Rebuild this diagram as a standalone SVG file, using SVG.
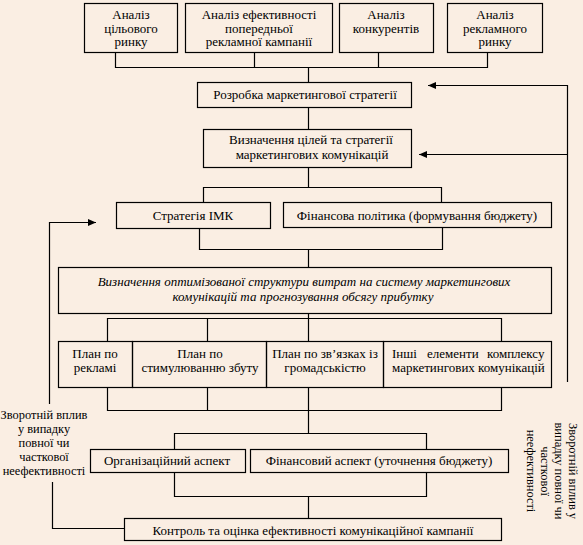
<svg xmlns="http://www.w3.org/2000/svg" width="583" height="545" viewBox="0 0 583 545">
<style>
.bg{fill:#FAEEE3}
.box{fill:none;stroke:#000;stroke-width:1.2}
.ln{fill:none;stroke:#000;stroke-width:1.2}
.t{font-family:"Liberation Serif","Times New Roman",serif;font-size:13px;fill:#000;text-anchor:middle}
.i{font-style:italic}
.s{font-size:12.4px}
</style>
<defs>
<marker id="ah" markerUnits="userSpaceOnUse" markerWidth="9" markerHeight="8" refX="8" refY="3.5" orient="auto">
<path d="M0,0 L8,3.5 L0,7 z" fill="#000"/>
</marker>
</defs>
<rect class="bg" x="0" y="0" width="583" height="545"/>
<g id="connectors">
<path class="ln" d="M115.5 52 V67.5 H487.5 V52 M254.5 52 V67.5 M378.5 52 V67.5 M308.5 67.5 V82"/>
<path class="ln" d="M308.5 107 V129"/>
<path class="ln" d="M567.5 382 V85.5 H428" marker-end="url(#ah)"/>
<path class="ln" d="M567.5 154.5 H419" marker-end="url(#ah)"/>
<path class="ln" d="M308.5 167 V187.5 M203.5 202 V187.5 H441.5 V202"/>
<path class="ln" d="M199.5 228 V249.5 H442.5 V227 M308.5 249.5 V267"/>
<path class="ln" d="M49.5 404 V222.5 H96" marker-end="url(#ah)"/>
<path class="ln" d="M308.5 313 V341 M107.5 341 V318.5 H501.5 V341 M207.5 318.5 V341"/>
<path class="ln" d="M107.5 387 V410.5 H501.5 V387 M207.5 387 V410.5 M308.5 387 V433.5"/>
<path class="ln" d="M174.5 449 V433.5 H426.5 V449"/>
<path class="ln" d="M174.5 472 V496.5 H426.5 V472 M308.5 496.5 V518"/>
<path class="ln" d="M124 528.5 H52.5 V482"/>
</g>
<g id="n1"><rect class="box" x="84.5" y="3.5" width="93" height="49"/>
<text class="t" x="131" y="19">Аналіз<tspan x="131" dy="13.5">цільового</tspan><tspan x="131" dy="13.5">ринку</tspan></text></g>
<g id="n2"><rect class="box" x="185.5" y="3.5" width="147" height="49"/>
<text class="t" x="259" y="19">Аналіз ефективності<tspan x="259" dy="13.5">попередньої</tspan><tspan x="259" dy="13.5">рекламної кампанії</tspan></text></g>
<g id="n3"><rect class="box" x="339.5" y="3.5" width="94" height="49"/>
<text class="t" x="386" y="19">Аналіз<tspan x="386" dy="13.5">конкурентів</tspan></text></g>
<g id="n4"><rect class="box" x="447.5" y="3.5" width="95" height="49"/>
<text class="t" x="495" y="19">Аналіз<tspan x="495" dy="13.5">рекламного</tspan><tspan x="495" dy="13.5">ринку</tspan></text></g>
<g id="n5"><rect class="box" x="197.5" y="82.5" width="214" height="25"/>
<text class="t" x="305" y="99">Розробка маркетингової стратегії</text></g>
<g id="n6"><rect class="box" x="203.5" y="129.5" width="208" height="38"/>
<text class="t" x="311" y="144">Визначення цілей та  стратегії<tspan x="312" dy="15">маркетингових комунікацій</tspan></text></g>
<g id="n7"><rect class="box" x="116.5" y="202.5" width="154" height="26"/>
<text class="t" x="193" y="220">Стратегія ІМК</text></g>
<g id="n8"><rect class="box" x="283.5" y="202.5" width="268" height="25"/>
<text class="t" x="417" y="220">Фінансова політика (формування бюджету)</text></g>
<g id="n9"><rect class="box" x="58.5" y="267.5" width="493" height="46"/>
<text class="t i" x="304" y="286">Визначення оптимізованої структури витрат на систему маркетингових<tspan x="303" dy="15">комунікацій та прогнозування обсягу прибутку</tspan></text></g>
<g id="n10"><rect class="box" x="58.5" y="341.5" width="74" height="46"/>
<text class="t" x="95" y="358">План по<tspan x="95" dy="14">рекламі</tspan></text></g>
<g id="n11"><rect class="box" x="132.5" y="341.5" width="134" height="46"/>
<text class="t" x="200" y="358">План по<tspan x="200" dy="14">стимулюванню збуту</tspan></text></g>
<g id="n12"><rect class="box" x="266.5" y="341.5" width="117" height="46"/>
<text class="t" x="325" y="358">План по зв’язках із<tspan x="325" dy="14">громадськістю</tspan></text></g>
<g id="n13"><rect class="box" x="383.5" y="341.5" width="168" height="46"/>
<text class="t" style="text-anchor:start" x="392" y="358">Інші<tspan x="427">елементи</tspan><tspan x="487">комплексу</tspan><tspan x="392" dy="14">маркетингових комунікацій</tspan></text></g>
<g id="n14"><rect class="box" x="90.5" y="449.5" width="155" height="23"/>
<text class="t" x="167" y="465">Організаційний аспект</text></g>
<g id="n15"><rect class="box" x="250.5" y="449.5" width="258" height="23"/>
<text class="t" x="379" y="465">Фінансовий аспект (уточнення  бюджету)</text></g>
<g id="n16"><rect class="box" x="124.5" y="518.5" width="377" height="22"/>
<text class="t" x="313" y="535">Контроль та оцінка ефективності комунікаційної  кампанії</text></g>
<g id="lbl-left">
<text class="t s" x="44" y="419">Зворотній вплив<tspan x="44" dy="14">у випадку</tspan><tspan x="44" dy="14">повної чи</tspan><tspan x="44" dy="14">часткової</tspan><tspan x="44" dy="14">неефективності</tspan></text></g>
<g id="lbl-right">
<text class="t s" transform="translate(569,471) rotate(90)" x="0" y="0">Зворотній вплив у<tspan x="0" dy="14">випадку повної чи</tspan><tspan x="0" dy="14">часткової</tspan><tspan x="0" dy="14">неефективності</tspan></text></g>
</svg>
